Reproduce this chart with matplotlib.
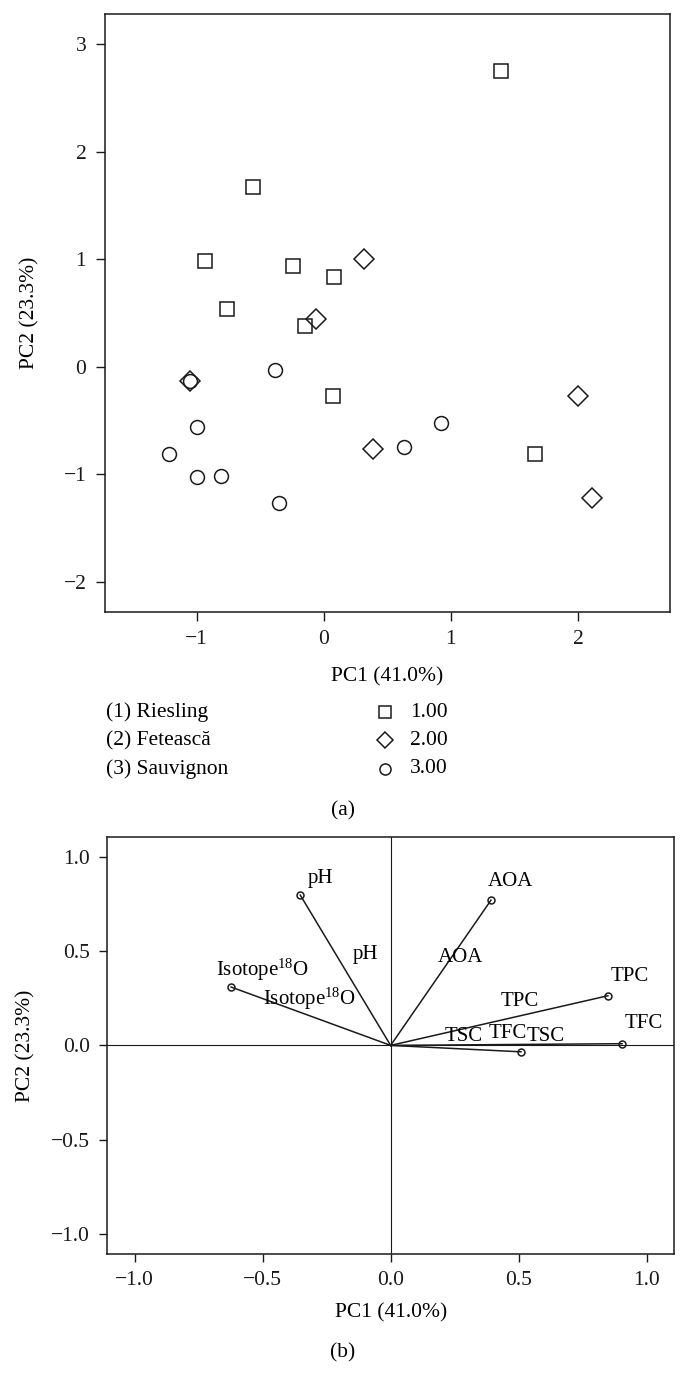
import matplotlib
matplotlib.use('Agg')
import matplotlib.pyplot as plt
from matplotlib.ticker import MultipleLocator

plt.rcParams['font.family'] = ['Liberation Serif', 'DejaVu Serif']
plt.rcParams['mathtext.fontset'] = 'custom'
plt.rcParams['mathtext.rm'] = 'Liberation Serif'
plt.rcParams['mathtext.it'] = 'Liberation Serif:italic'
plt.rcParams['font.size'] = 15.5

# (a) PCA scores
riesling_pc1 = [1.39, -0.56, -0.93, -0.24, 0.08, -0.76, -0.15, 0.07, 1.66]
riesling_pc2 = [2.75, 1.67, 0.98, 0.94, 0.83, 0.54, 0.38, -0.27, -0.81]
feteasca_pc1 = [0.32, -0.06, -1.05, 0.39, 2.00, 2.11]
feteasca_pc2 = [1.00, 0.44, -0.13, -0.77, -0.27, -1.22]
sauvignon_pc1 = [-1.05, -0.38, -1.00, -1.22, -1.00, -0.81, -0.35, 0.63, 0.92]
sauvignon_pc2 = [-0.13, -0.03, -0.56, -0.81, -1.03, -1.02, -1.27, -0.75, -0.52]

group_names = ['(1) Riesling', '(2) Fetească', '(3) Sauvignon']
group_codes = ['1.00', '2.00', '3.00']

# (b) loadings
var_names = ['pH', 'AOA', 'Isotope$^{18}$O', 'TPC', 'TFC', 'TSC']
load_pc1 = [-0.353, 0.392, -0.623, 0.849, 0.904, 0.509]
load_pc2 = [0.796, 0.769, 0.309, 0.263, 0.009, -0.034]

# label offsets (points): end of vector, middle of vector
end_offsets = [(14.3, 12.0), (14.0, 13.2), (22.2, 12.5), (15.6, 13.5), (15.8, 14.2), (18.1, 11.3)]
mid_offsets = [(14.1, 11.3), (14.0, 11.2), (-1.3, 12.5), (14.4, 13.7), (0.8, 8.1), (6.0, 8.5)]

ink = '#1a1a1a'
fig = plt.figure(figsize=(6.89, 13.96), dpi=100)

# ---------- panel (a)
ax1 = fig.add_axes([0.1524, 0.5618, 0.8196, 0.4282])
mk = dict(linestyle='none', mfc='none', mec=ink, mew=1.1)
ax1.plot(riesling_pc1, riesling_pc2, marker='s', ms=10, **mk)
ax1.plot(feteasca_pc1, feteasca_pc2, marker='D', ms=10, **mk)
ax1.plot(sauvignon_pc1, sauvignon_pc2, marker='o', ms=10, **mk)
ax1.set_xlim(-1.72, 2.72)
ax1.set_ylim(-2.28, 3.28)
ax1.xaxis.set_major_locator(MultipleLocator(1))
ax1.yaxis.set_major_locator(MultipleLocator(1))
ax1.tick_params(direction='out', length=6.5, width=1, pad=7, colors=ink)
for s in ax1.spines.values():
    s.set_linewidth(1.1)
    s.set_color(ink)
ax1.set_xlabel('PC1 (41.0%)')
ax1.xaxis.set_label_coords(0.5, -0.109)
ax1.xaxis.label.set_va('center')
ax1.set_ylabel('PC2 (23.3%)')
ax1.yaxis.set_label_coords(-0.133, 0.5)
ax1.yaxis.label.set_va('center')

# legend block under panel (a)
lax = fig.add_axes([0, 0.4392, 1, 0.0608])
lax.axis('off')
lax.set_xlim(0, 1)
lax.set_ylim(2.5, -0.5)
leg_markers = ['s', 'D', 'o']
leg_sizes = [9.2, 8.6, 8]
for i in range(3):
    lax.text(0.1535, i, group_names[i], ha='left', va='center')
    lax.plot(0.559, i, marker=leg_markers[i], ms=leg_sizes[i], **mk)
    lax.text(0.595, i, group_codes[i], ha='left', va='center')

fig.text(0.498, 0.4193, '(a)', ha='center', va='center')

# ---------- panel (b)
ax2 = fig.add_axes([0.1557, 0.1017, 0.8225, 0.2989])
ax2.axhline(0, color=ink, lw=0.8)
ax2.axvline(0, color=ink, lw=0.8)
for i, name in enumerate(var_names):
    x, y = load_pc1[i], load_pc2[i]
    ax2.plot([0, x], [0, y], color=ink, lw=1.1)
    ax2.plot(x, y, marker='o', ms=5, mfc='none', mec=ink, mew=1.1)
    ax2.annotate(name, (x, y), xytext=end_offsets[i], textcoords='offset points',
                 ha='center', va='center', fontsize=15)
    ax2.annotate(name, (x / 2, y / 2), xytext=mid_offsets[i], textcoords='offset points',
                 ha='center', va='center', fontsize=15)
ax2.set_xlim(-1.107, 1.107)
ax2.set_ylim(-1.105, 1.105)
ax2.xaxis.set_major_locator(MultipleLocator(0.5))
ax2.yaxis.set_major_locator(MultipleLocator(0.5))
ax2.tick_params(direction='out', length=5.5, width=1, pad=7, colors=ink)
for s in ax2.spines.values():
    s.set_linewidth(1.1)
    s.set_color(ink)
ax2.set_xlabel('PC1 (41.0%)')
ax2.xaxis.set_label_coords(0.5, -0.142)
ax2.xaxis.label.set_va('center')
ax2.set_ylabel('PC2 (23.3%)')
ax2.yaxis.set_label_coords(-0.1435, 0.5)
ax2.yaxis.label.set_va('center')

fig.text(0.498, 0.0306, '(b)', ha='center', va='center')

fig.savefig('out.png', dpi=100)
